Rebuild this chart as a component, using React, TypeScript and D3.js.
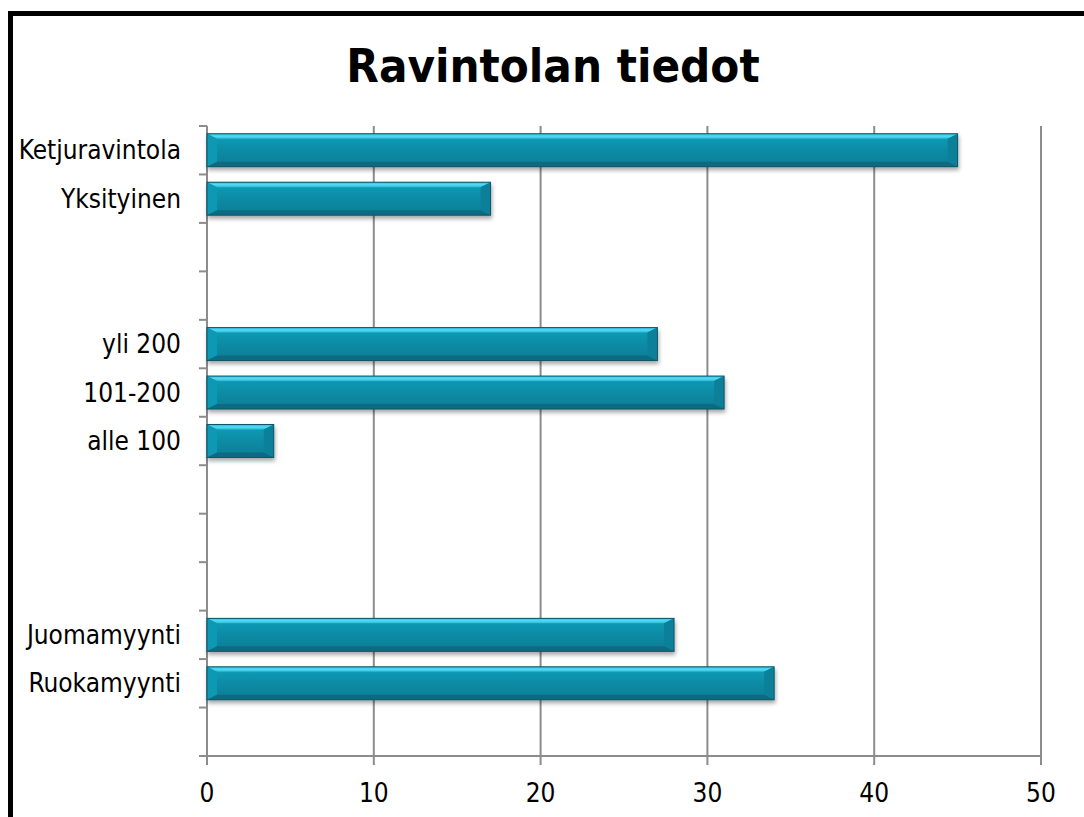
import React from "react";
import * as d3 from "d3";

const categories = [
  "Ketjuravintola", "Yksityinen", "gap1", "gap2", "yli 200", "101-200", "alle 100",
  "gap3", "gap4", "gap5", "Juomamyynti", "Ruokamyynti", "gap6",
];
const values: (number | null)[] = [45, 17, null, null, 27, 31, 4, null, null, null, 28, 34, null];
const xTicks = [0, 10, 20, 30, 40, 50];
const title = "Ravintolan tiedot";

const W = 1084, H = 817;
const plot = { left: 207, right: 1041, top: 126, bottom: 756 };
const FONT = "'DejaVu Sans Condensed', 'DejaVu Sans', sans-serif";

export default function App() {
  const x = d3.scaleLinear().domain([0, 50]).range([plot.left, plot.right]);
  const y = d3.scaleBand<string>().domain(categories).range([plot.top, plot.bottom]).paddingInner(0.32).paddingOuter(0.16);
  const yb = d3.scaleBand<string>().domain(categories).range([plot.top, plot.bottom]);
  const bh = y.bandwidth();
  const bev = 5;
  const bars = categories.map((c, i) => ({ c, v: values[i] })).filter((d) => d.v != null) as { c: string; v: number }[];
  const tickYs = d3.range(categories.length + 1).map((i) => plot.top + i * yb.step());

  return (
    <svg width={W} height={H} style={{ position: "absolute", left: 0, top: 0, background: "#fff" }} fontFamily={FONT}>
      <defs>
        <linearGradient id="body" x1="0" y1="0" x2="0" y2="1">
          <stop offset="0" stopColor="#159fbb" />
          <stop offset="0.5" stopColor="#0a8ba5" />
          <stop offset="1" stopColor="#087d95" />
        </linearGradient>
        <linearGradient id="topb" x1="0" y1="0" x2="0" y2="1">
          <stop offset="0" stopColor="#30c0de" />
          <stop offset="0.5" stopColor="#55daf5" />
          <stop offset="1" stopColor="#2ab8d6" />
        </linearGradient>
        <filter id="shadow" x="-5%" y="-30%" width="110%" height="180%">
          <feGaussianBlur in="SourceAlpha" stdDeviation="2" />
          <feOffset dx="1" dy="3" result="b" />
          <feComponentTransfer><feFuncA type="linear" slope="0.35" /></feComponentTransfer>
          <feMerge><feMergeNode /><feMergeNode in="SourceGraphic" /></feMerge>
        </filter>
      </defs>
      <rect x={0} y={0} width={W} height={H} fill="#fff" />
      <rect x={10.5} y={13.5} width={W + 20} height={H + 20} fill="none" stroke="#000" strokeWidth={5} />
      <text x={553} y={82} textAnchor="middle" fontSize={47} fontWeight="bold" fill="#000">{title}</text>

      {xTicks.map((t) => (
        <line key={"g" + t} x1={x(t)} x2={x(t)} y1={plot.top} y2={plot.bottom + 9} stroke="#8c8c8c" strokeWidth={2} />
      ))}
      <line x1={plot.left - 8} x2={plot.right} y1={plot.bottom} y2={plot.bottom} stroke="#8c8c8c" strokeWidth={2} />
      {tickYs.map((ty, i) => (
        <line key={"t" + i} x1={plot.left - 8} x2={plot.left} y1={ty} y2={ty} stroke="#8c8c8c" strokeWidth={2} />
      ))}

      {bars.map((d) => {
        const x0 = x(0), x1 = x(d.v), y0 = y(d.c)!, y1 = y0 + bh;
        return (
          <g key={d.c} filter="url(#shadow)">
            <rect x={x0} y={y0} width={x1 - x0} height={bh} fill="url(#body)" />
            <polygon points={`${x0},${y0} ${x1},${y0} ${x1 - bev * 2},${y0 + bev} ${x0 + bev * 2},${y0 + bev}`} fill="url(#topb)" />
            <polygon points={`${x0},${y0} ${x0 + bev * 2},${y0 + bev} ${x0 + bev * 2},${y1 - bev} ${x0},${y1}`} fill="#1199b4" />
            <polygon points={`${x1},${y0} ${x1 - bev * 2},${y0 + bev} ${x1 - bev * 2},${y1 - bev} ${x1},${y1}`} fill="#0a8099" />
            <polygon points={`${x0},${y1} ${x0 + bev * 2},${y1 - bev} ${x1 - bev * 2},${y1 - bev} ${x1},${y1}`} fill="#086b80" />
            <rect x={x0} y={y0} width={x1 - x0} height={bh} fill="none" stroke="#0b5566" strokeWidth={1} />
          </g>
        );
      })}

      {categories.map((c) => (c.startsWith("gap") ? null : (
        <text key={"l" + c} x={181} y={yb(c)! + yb.bandwidth() / 2} dy="0.35em" textAnchor="end" fontSize={26} fill="#000">{c}</text>
      )))}
      {xTicks.map((t) => (
        <text key={"x" + t} x={x(t)} y={793} dy="0.35em" textAnchor="middle" fontSize={26} fill="#000">{t}</text>
      ))}
    </svg>
  );
}
